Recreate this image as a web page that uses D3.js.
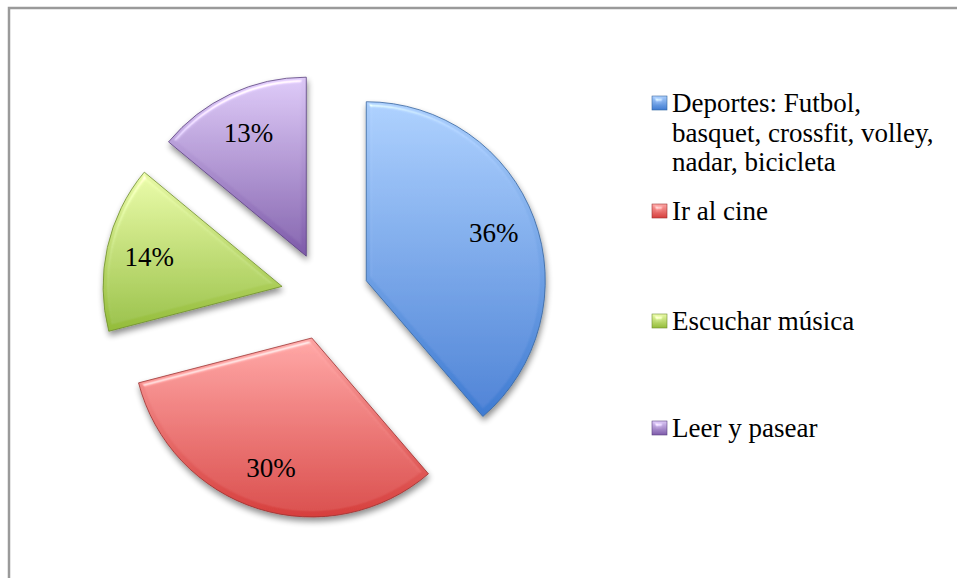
<!DOCTYPE html>
<html>
<head>
<meta charset="utf-8">
<script src="https://cdn.jsdelivr.net/npm/d3@7"></script>
<style>
  html, body { margin: 0; padding: 0; background: #fff; }
  svg { display: block; }
  text { font-family: "Liberation Serif", "Times New Roman", serif; fill: #000; }
</style>
</head>
<body>
<svg id="chart" width="957" height="578"></svg>
<script>
// Activities and their shares (percent)
const categories = [
  "Deportes: Futbol, basquet, crossfit, volley, nadar, bicicleta",
  "Ir al cine",
  "Escuchar música",
  "Leer y pasear"
];
const values = [36, 30, 14, 13];
const legendLines = [
  ["Deportes: Futbol,", "basquet, crossfit, volley,", "nadar, bicicleta"],
  ["Ir al cine"],
  ["Escuchar música"],
  ["Leer y pasear"]
];
// light / dark ends of each slice's vertical gradient
const lightColors = ["#a9cdfb", "#fca3a2", "#e8f9a6", "#dbc7f5"];
const darkColors  = ["#3f7bd2", "#d63f3d", "#93bc3a", "#7d5aa9"];
const edgeColors  = ["#35649f", "#9c302e", "#6f8e2c", "#5a407f"];

const W = 957, H = 578;
const cx = 325, cy = 296, R = 179, explode = 44, labelR = 136;

const svg = d3.select("#chart");
const defs = svg.append("defs");

// vertical gradient per series
categories.forEach((c, i) => {
  const g = defs.append("linearGradient")
    .attr("id", "grad" + i)
    .attr("x1", 0).attr("y1", 0).attr("x2", 0).attr("y2", 1);
  g.append("stop").attr("offset", "0%").attr("stop-color", lightColors[i]);
  g.append("stop").attr("offset", "100%").attr("stop-color", darkColors[i]);
});

// soft drop shadow under the slices
const shadow = defs.append("filter").attr("id", "shadow")
  .attr("x", "-20%").attr("y", "-20%").attr("width", "140%").attr("height", "140%");
shadow.append("feGaussianBlur").attr("in", "SourceAlpha").attr("stdDeviation", 3).attr("result", "b");
shadow.append("feOffset").attr("in", "b").attr("dx", 1).attr("dy", 4).attr("result", "o");
shadow.append("feComponentTransfer").attr("in", "o").attr("result", "s")
  .append("feFuncA").attr("type", "linear").attr("slope", 0.45);
const sm = shadow.append("feMerge");
sm.append("feMergeNode").attr("in", "s");
sm.append("feMergeNode").attr("in", "SourceGraphic");

// bevel: highlight only on the rim that faces the light
const bevel = defs.append("filter").attr("id", "bevel")
  .attr("x", "-10%").attr("y", "-10%").attr("width", "120%").attr("height", "120%");
bevel.append("feGaussianBlur").attr("in", "SourceAlpha").attr("stdDeviation", 2.5).attr("result", "blur");
const spec = bevel.append("feSpecularLighting").attr("in", "blur")
  .attr("surfaceScale", 5).attr("specularConstant", 0.9).attr("specularExponent", 22)
  .attr("lighting-color", "#ffffff").attr("result", "spec");
spec.append("feDistantLight").attr("azimuth", 250).attr("elevation", 35);
bevel.append("feComposite").attr("in", "spec").attr("in2", "SourceAlpha").attr("operator", "in").attr("result", "specIn");
bevel.append("feComposite").attr("in", "SourceGraphic").attr("in2", "specIn")
  .attr("operator", "arithmetic").attr("k1", 0).attr("k2", 1).attr("k3", 0.5).attr("k4", 0);

// chart frame
svg.append("rect")
  .attr("x", 9).attr("y", 8).attr("width", W + 20).attr("height", H + 20)
  .attr("fill", "none").attr("stroke", "#9a9a9a").attr("stroke-width", 2.5);

const pie = d3.pie().sort(null).value(d => d)(values);
const arc = d3.arc().innerRadius(0).outerRadius(R);

const slices = svg.append("g").attr("transform", `translate(${cx},${cy})`);

pie.forEach((p, i) => {
  const mid = (p.startAngle + p.endAngle) / 2;
  const ox = Math.sin(mid) * explode, oy = -Math.cos(mid) * explode;
  const g = slices.append("g").attr("transform", `translate(${ox},${oy})`);
  g.append("g").attr("filter", "url(#shadow)")
    .append("path")
    .attr("d", arc(p))
    .attr("fill", `url(#grad${i})`)
    .attr("stroke", edgeColors[i]).attr("stroke-width", 0.8)
    .attr("filter", "url(#bevel)");
  g.append("text")
    .attr("x", Math.sin(mid) * labelR)
    .attr("y", -Math.cos(mid) * labelR)
    .attr("text-anchor", "middle")
    .attr("dominant-baseline", "central")
    .attr("font-size", 27)
    .text(values[i] + "%");
});

// legend
const legendX = 652, textX = 672;
const entryTops = [103, 211, 321, 428]; // vertical middle of first line
const lineH = 29.5;
const legend = svg.append("g");
categories.forEach((c, i) => {
  const y0 = entryTops[i];
  legend.append("rect")
    .attr("x", legendX).attr("y", y0 - 7)
    .attr("width", 15).attr("height", 14)
    .attr("fill", `url(#grad${i})`)
    .attr("stroke", edgeColors[i]).attr("stroke-width", 0.6)
    .attr("filter", "url(#bevel)");
  const t = legend.append("text")
    .attr("x", textX).attr("y", y0 + 9)
    .attr("font-size", 27);
  legendLines[i].forEach((ln, k) => {
    t.append("tspan").attr("x", textX).attr("dy", k === 0 ? 0 : lineH).text(ln);
  });
});
</script>
</body>
</html>
